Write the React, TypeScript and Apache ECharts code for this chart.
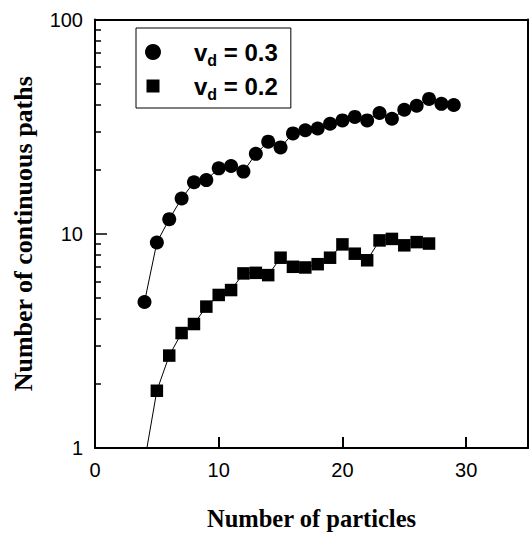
import React, { useEffect, useRef } from "react";
import * as echarts from "echarts";

// Number of particles (x) and number of continuous paths (y)
const circleX = [4, 5, 6, 7, 8, 9, 10, 11, 12, 13, 14, 15, 16, 17, 18, 19, 20, 21, 22, 23, 24, 25, 26, 27, 28, 29];
const circleY = [4.8, 9.1, 11.7, 14.6, 17.4, 17.8, 20.2, 20.7, 19.5, 23.6, 26.9, 25.3, 29.4, 30.4, 31.0, 32.6, 33.8, 35.1, 33.8, 36.6, 34.4, 37.9, 39.6, 42.6, 40.4, 39.9];

const squareX = [4, 5, 6, 7, 8, 9, 10, 11, 12, 13, 14, 15, 16, 17, 18, 19, 20, 21, 22, 23, 24, 25, 26, 27];
const squareY = [0.86, 1.85, 2.7, 3.44, 3.79, 4.57, 5.18, 5.46, 6.53, 6.57, 6.41, 7.73, 7.01, 6.96, 7.21, 7.73, 8.92, 8.07, 7.52, 9.31, 9.46, 8.83, 9.14, 9.0];

const vdValues = ["0.3", "0.2"];
const seriesNames = vdValues.map((v) => `vd = ${v}`);

const xTickLabels = [0, 10, 20, 30];
const minorTickValues = [2, 3, 4, 5, 6, 7, 8, 9, 20, 30, 40, 50, 60, 70, 80, 90];

const SANS = "'Liberation Sans', Arial, Helvetica, sans-serif";
const SERIF = "'Liberation Serif', 'Times New Roman', Times, serif";
const TICK = "#000";

const frameAxis = (position: string, extra: object) => ({
  type: "value",
  position,
  ...extra,
  axisLine: { show: true, onZero: false, lineStyle: { color: "#000", width: 2 } },
  axisTick: { show: false },
  axisLabel: { show: false },
  splitLine: { show: false },
});

export default function App() {
  const ref = useRef<HTMLDivElement>(null);

  useEffect(() => {
    if (!ref.current) return;
    const chart = echarts.init(ref.current, null, { renderer: "svg" });

    const circleData = circleX.map((x, i) => [x, circleY[i]]);
    const squareData = squareX.map((x, i) => [x, squareY[i]]);

    chart.setOption({
      animation: false,
      backgroundColor: "#fff",
      textStyle: { fontFamily: SANS, color: "#000" },
      grid: { left: 95, top: 19.5, right: 1, bottom: 82.5, show: false },
      legend: {
        orient: "vertical",
        left: 136,
        top: 28,
        padding: [12, 13, 6, 9],
        itemGap: 6,
        itemWidth: 16,
        itemHeight: 16,
        borderColor: "#000",
        borderWidth: 1,
        backgroundColor: "#fff",
        data: [
          { name: seriesNames[0], icon: "circle" },
          { name: seriesNames[1], icon: "path://M0,0M16,16M1.5,1.5h13v13h-13z" },
        ],
        formatter: (name: string) => {
          const idx = seriesNames.indexOf(name);
          return `{v|v}{d|d}{t| = ${vdValues[idx]}}`;
        },
        textStyle: {
          color: "#000",
          fontFamily: SANS,
          fontWeight: "bold",
          fontSize: 24,
          rich: {
            v: {
              fontFamily: SANS, fontWeight: "bold", fontSize: 24, lineHeight: 24,
              verticalAlign: "top", padding: [0, 0, 0, 28], color: "#000",
            },
            d: {
              fontFamily: SANS, fontWeight: "bold", fontSize: 16, lineHeight: 15,
              verticalAlign: "top", padding: [12, 0, 0, 0], color: "#000",
            },
            t: {
              fontFamily: SANS, fontWeight: "bold", fontSize: 24, lineHeight: 24,
              verticalAlign: "top", color: "#000",
            },
          },
        },
      },
      xAxis: [
        {
          type: "value",
          min: 0,
          max: 35,
          interval: 10,
          position: "bottom",
          name: "Number of particles",
          nameLocation: "middle",
          nameGap: 58,
          nameTextStyle: { fontFamily: SERIF, fontWeight: "bold", fontSize: 24.5, color: "#000" },
          axisLine: { show: true, onZero: false, lineStyle: { color: "#000", width: 2 } },
          axisTick: { show: true, inside: true, length: 11, lineStyle: { color: TICK, width: 2 } },
          axisLabel: {
            color: "#000",
            fontFamily: SANS,
            fontSize: 20,
            margin: 12,
            formatter: (v: number) => (xTickLabels.indexOf(v) >= 0 ? String(v) : ""),
          },
          splitLine: { show: false },
        },
        frameAxis("top", { min: 0, max: 35 }),
      ],
      yAxis: [
        {
          type: "log",
          logBase: 10,
          min: 1,
          max: 100,
          position: "left",
          name: "Number of continuous paths",
          nameLocation: "middle",
          nameGap: 59,
          nameTextStyle: { fontFamily: SERIF, fontWeight: "bold", fontSize: 26, color: "#000" },
          axisLine: { show: true, onZero: false, lineStyle: { color: "#000", width: 2 } },
          axisTick: { show: true, inside: true, length: 12, lineStyle: { color: TICK, width: 1.5 } },
          axisLabel: { color: "#000", fontFamily: SANS, fontSize: 20, margin: 12 },
          splitLine: { show: false },
        },
        {
          type: "value",
          min: 0,
          max: 2,
          position: "left",
          axisLine: { show: false },
          axisLabel: { show: false },
          splitLine: { show: false },
          axisTick: {
            show: true,
            inside: true,
            length: 6,
            customValues: minorTickValues.map((v) => Math.log10(v)),
            lineStyle: { color: TICK, width: 1.5 },
          },
        },
        frameAxis("right", { min: 0, max: 2 }),
      ],
      series: [
        {
          name: seriesNames[0],
          type: "line",
          xAxisIndex: 0,
          yAxisIndex: 0,
          data: circleData,
          symbol: "circle",
          symbolSize: 14,
          showAllSymbol: true,
          clip: true,
          lineStyle: { color: "#000", width: 1 },
          itemStyle: { color: "#000", borderWidth: 0 },
          emphasis: { disabled: true },
        },
        {
          name: seriesNames[1],
          type: "line",
          xAxisIndex: 0,
          yAxisIndex: 0,
          data: squareData,
          symbol: "rect",
          symbolSize: 12.5,
          showAllSymbol: true,
          clip: true,
          lineStyle: { color: "#000", width: 1 },
          itemStyle: { color: "#000", borderWidth: 0 },
          emphasis: { disabled: true },
        },
      ],
    });

    return () => chart.dispose();
  }, []);

  return (
    <div
      ref={ref}
      style={{ position: "fixed", left: 0, top: 0, width: 531, height: 536 }}
    />
  );
}
